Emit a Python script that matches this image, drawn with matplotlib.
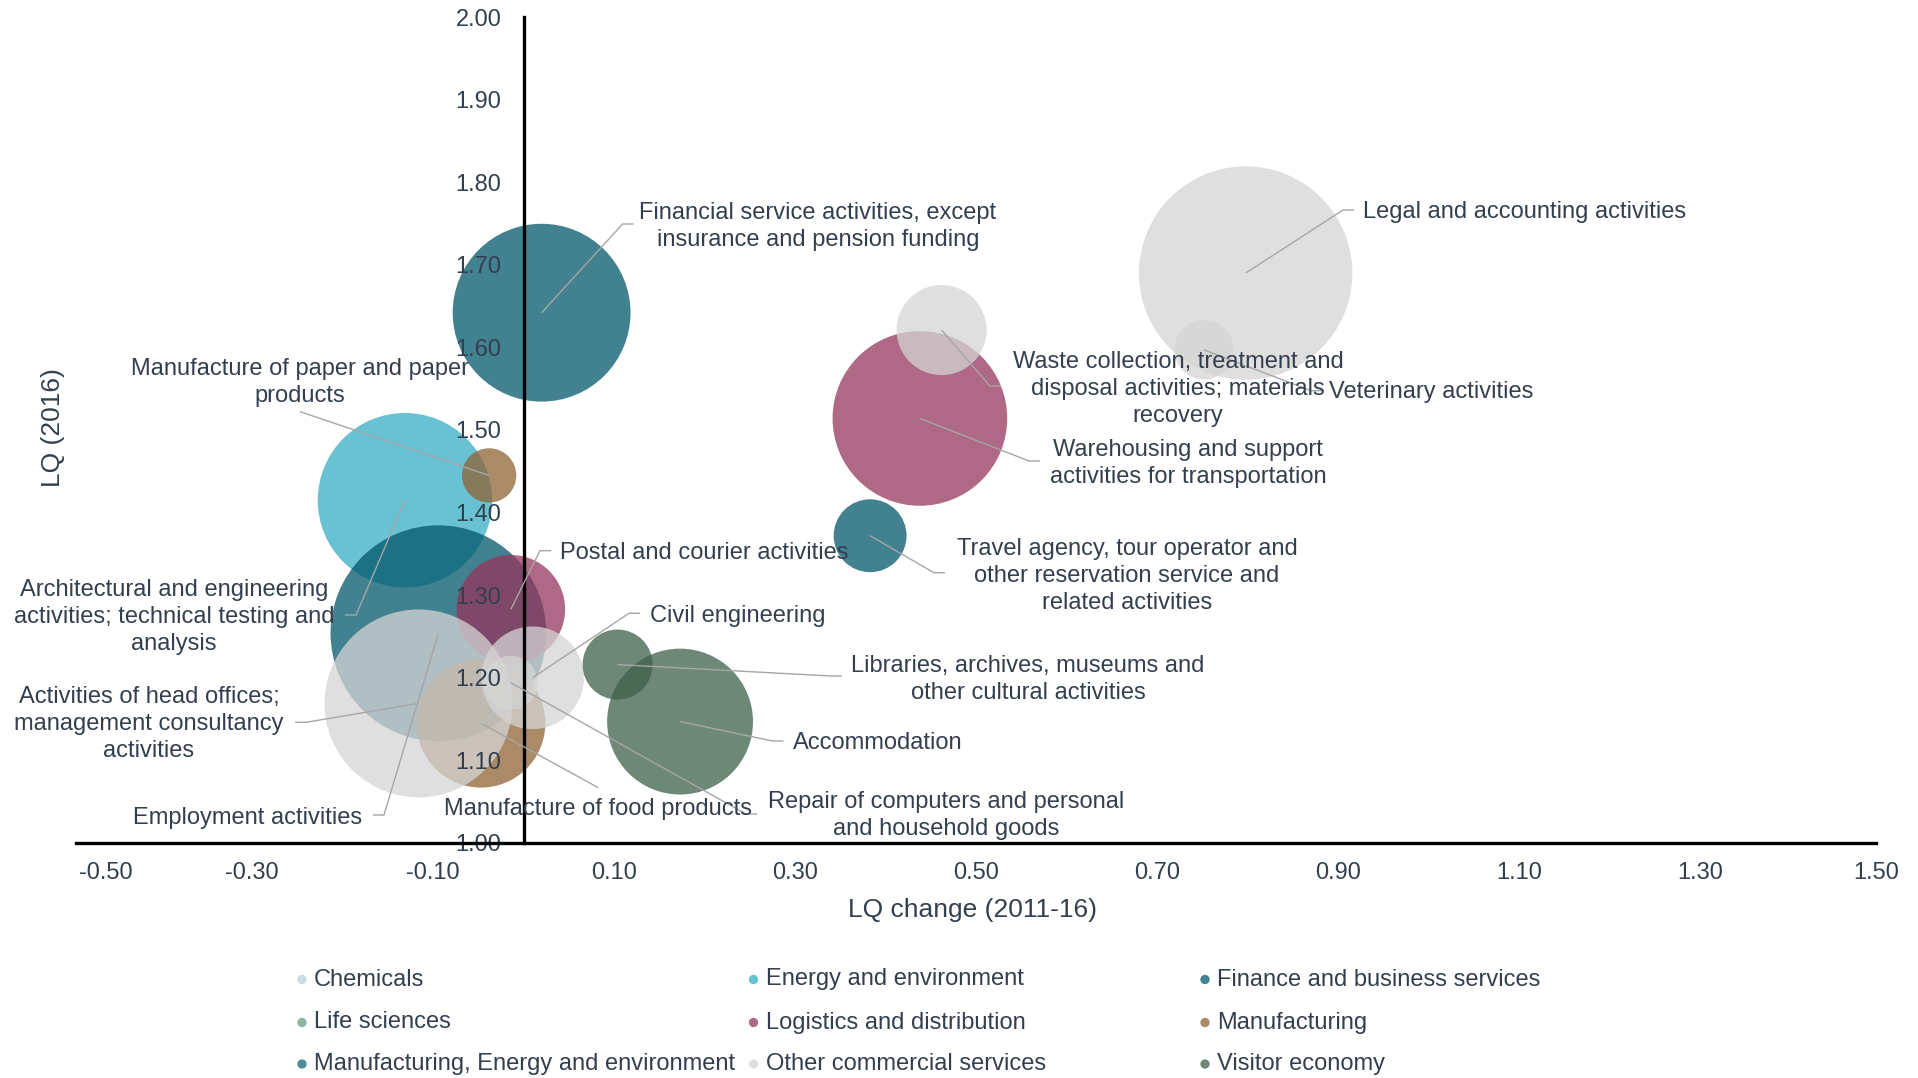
import matplotlib
matplotlib.use("Agg")
import matplotlib.pyplot as plt
from matplotlib.transforms import ScaledTranslation
import numpy as np

plt.rcParams['font.family'] = ['Liberation Sans', 'DejaVu Sans']

TEXT = '#333F4F'
LEADER = '#A6A6A6'
ALPHA = 0.75

# --- sector groups (legend order) ---
sectors = ['Chemicals', 'Energy and environment', 'Finance and business services',
           'Life sciences', 'Logistics and distribution', 'Manufacturing',
           'Manufacturing, Energy and environment', 'Other commercial services',
           'Visitor economy']
sector_colors = ['#B7D0DA', '#37ACC6', '#03576A',
                 '#6A9C80', '#94365C', '#8F6434',
                 '#14677A', '#D5D5D5', '#3E604A']

# --- industries ---
industries = [
    'Financial service activities, except\ninsurance and pension funding',
    'Legal and accounting activities',
    'Waste collection, treatment and\ndisposal activities; materials\nrecovery',
    'Veterinary activities',
    'Warehousing and support\nactivities for transportation',
    'Travel agency, tour operator and\nother reservation service and\nrelated activities',
    'Architectural and engineering\nactivities; technical testing and\nanalysis',
    'Manufacture of paper and paper\nproducts',
    'Postal and courier activities',
    'Civil engineering',
    'Libraries, archives, museums and\nother cultural activities',
    'Accommodation',
    'Activities of head offices;\nmanagement consultancy\nactivities',
    'Employment activities',
    'Manufacture of food products',
    'Repair of computers and personal\nand household goods',
]
industry_sector = [2, 7, 7, 7, 4, 2, 1, 5, 4, 7, 8, 8, 7, 2, 5, 7]
lq_change = [0.020, 0.798, 0.462, 0.752, 0.438, 0.383, -0.131, -0.038,
             -0.014, 0.010, 0.104, 0.173, -0.116, -0.094, -0.047, -0.014]
lq_2016 = [1.642, 1.690, 1.621, 1.597, 1.514, 1.372, 1.415, 1.445,
           1.283, 1.200, 1.216, 1.147, 1.169, 1.254, 1.145, 1.194]
employment = [792, 1141, 203, 88, 764, 133, 762, 74,
              295, 264, 123, 533, 884, 1166, 415, 73]

# label placement: text centre, leader attach point, side the leader meets the text
label_xy = [(0.3254, 1.7488), (1.1061, 1.7663), (0.7232, 1.5517), (1.0028, 1.5478),
            (0.7347, 1.4613), (0.6669, 1.3253), (-0.3862, 1.2757), (-0.2475, 1.5599),
            (0.2000, 1.3527), (0.2366, 1.2772), (0.5575, 1.2002), (0.3917, 1.1226),
            (-0.4138, 1.1459), (-0.3050, 1.0327), (0.0823, 1.0432), (0.4669, 1.0351)]
attach_xy = [(0.1217, 1.7494), (0.9177, 1.7663), (0.5276, 1.5533), (0.8823, 1.5476),
             (0.5707, 1.4625), (0.4657, 1.3272), (-0.1972, 1.2760), (-0.2470, 1.5222),
             (0.0304, 1.3539), (0.1287, 1.2781), (0.3516, 1.2022), (0.2871, 1.1235),
             (-0.2525, 1.1461), (-0.1663, 1.0339), (0.0827, 1.0669), (0.2580, 1.0351)]
attach_side = ['left', 'left', 'left', 'left', 'left', 'left', 'right', 'bottom',
               'left', 'left', 'left', 'left', 'right', 'right', 'top', 'left']

SIZE_SCALE = 20.7   # employment -> marker area (pt^2)
ELBOW_PX = 11

fig = plt.figure(figsize=(19.18, 10.78), dpi=100)
ax = fig.add_axes([0.03702, 0.21800, 0.94369, 0.76623])
ax.set_xlim(-0.5, 1.5)
ax.set_ylim(1.0, 2.0)

# bubbles, drawn sector by sector so later sectors sit on top
order = sorted(range(len(industries)), key=lambda i: industry_sector[i])
for z, i in enumerate(order):
    ax.scatter(lq_change[i], lq_2016[i], s=employment[i] * SIZE_SCALE,
               color=sector_colors[industry_sector[i]], alpha=ALPHA,
               edgecolors='none', zorder=1 + z * 0.01)

# leader lines and labels
to_disp = ax.transData
to_data = ax.transData.inverted()
for i, name in enumerate(industries):
    ax_, ay_ = attach_xy[i]
    side = attach_side[i]
    pts = [(lq_change[i], lq_2016[i])]
    if side in ('left', 'right'):
        dx, dy = to_disp.transform((ax_, ay_))
        dx += -ELBOW_PX if side == 'left' else ELBOW_PX
        pts.append(tuple(to_data.transform((dx, dy))))
    pts.append((ax_, ay_))
    xs, ys = zip(*pts)
    ax.plot(xs, ys, color=LEADER, lw=1.0, zorder=3, solid_capstyle='butt')
    ax.text(label_xy[i][0], label_xy[i][1] - 0.002, name, ha='center', va='center',
            multialignment='center', fontsize=17, color=TEXT, linespacing=1.3,
            zorder=4)

# axes through the origin
for s in ('top', 'right'):
    ax.spines[s].set_visible(False)
ax.spines['left'].set_position(('data', 0))
ax.spines['left'].set_linewidth(2.4)
ax.spines['bottom'].set_linewidth(2.4)
ax.spines['bottom'].set_bounds(-0.4945, 1.4945)
ax.spines['left'].set_zorder(2.5)
ax.set_xticks(np.round(np.arange(-0.5, 1.51, 0.2), 2))
ax.set_xticklabels([f'{v:.2f}' for v in np.arange(-0.5, 1.51, 0.2)])
ax.set_yticks(np.round(np.arange(1.0, 2.01, 0.1), 2))
ax.set_yticklabels([f'{v:.2f}' for v in np.arange(1.0, 2.01, 0.1)])
ax.tick_params(axis='both', length=0, labelsize=17, labelcolor=TEXT)
ax.tick_params(axis='y', pad=16)
ax.tick_params(axis='x', pad=14)
for lbl in ax.get_yticklabels():
    lbl.set_zorder(5)
xlabels = ax.get_xticklabels()
xlabels[0].set_transform(xlabels[0].get_transform()
                         + ScaledTranslation(0.35, 0, fig.dpi_scale_trans))
xlabels[-1].set_transform(xlabels[-1].get_transform()
                          + ScaledTranslation(-0.05, 0, fig.dpi_scale_trans))

ax.set_xlabel('LQ change (2011-16)', fontsize=19, color=TEXT)
ax.xaxis.set_label_coords(0.4978, -0.0815)
ax.set_ylabel('LQ (2016)', fontsize=19, color=TEXT)
ax.yaxis.set_label_coords(-0.0099, 0.5024)
ax.yaxis.label.set_va('center')
ax.xaxis.label.set_va('center')

# legend laid out in a 3-column grid
lg = fig.add_axes([0, 0, 1, 1], zorder=-1)
lg.set_xlim(0, 1918)
lg.set_ylim(1078, 0)
lg.axis('off')
col_x = [302, 753.5, 1205]
row_y = [979.5, 1022.5, 1064]
for k, name in enumerate(sectors):
    cx, cy = col_x[k % 3], row_y[k // 3]
    lg.scatter(cx, cy, s=45, color=sector_colors[k], alpha=ALPHA, edgecolors='none')
    lg.text(cx + 12, cy, name, ha='left', va='center', fontsize=17, color=TEXT)

fig.savefig('out.png', dpi=100)
